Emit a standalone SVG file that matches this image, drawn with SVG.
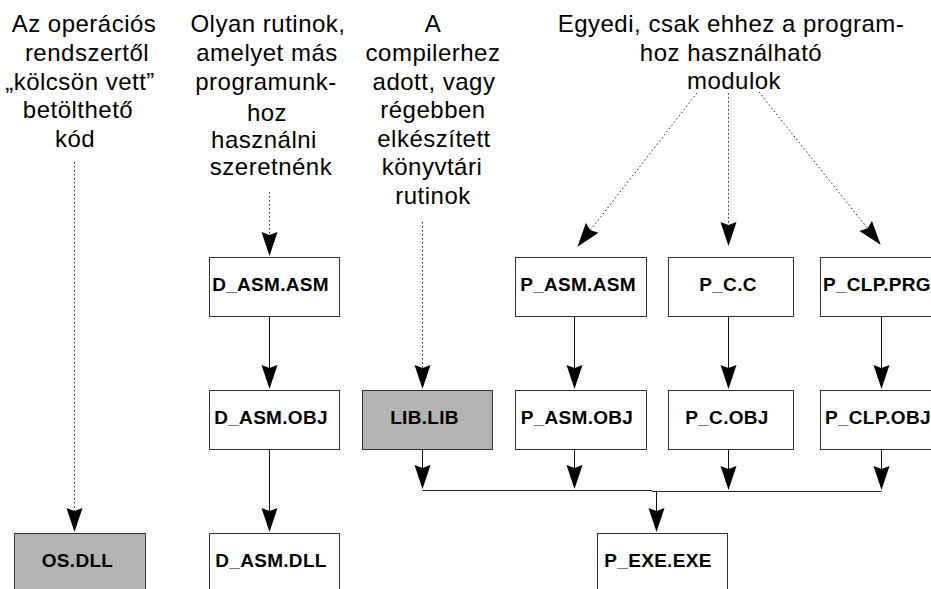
<svg xmlns="http://www.w3.org/2000/svg" width="931" height="589" viewBox="0 0 931 589">
  <style>
    .hdr { font-family: "Liberation Sans", Arial, sans-serif; font-size: 24px; letter-spacing: 0.5px; fill: #000; text-anchor: middle; }
    .lbl { font-family: "Liberation Sans", Arial, sans-serif; font-size: 19px; font-weight: bold; letter-spacing: 0.3px; fill: #000; text-anchor: middle; }
    .box { fill: #fff; stroke: #333; stroke-width: 1; }
    .box.sys { fill: #b3b3b3; }
    .solid { fill: none; stroke: #111; stroke-width: 1; marker-end: url(#arr); }
    .dot { fill: none; stroke: #222; stroke-width: 1; stroke-dasharray: 1.5 2.5; marker-end: url(#arr); }
    .bus { fill: none; stroke: #222; stroke-width: 1; }
  </style>
  <defs>
    <marker id="arr" markerUnits="userSpaceOnUse" markerWidth="24" markerHeight="17" viewBox="0 0 24 17" refX="21" refY="8.5" orient="auto">
      <path d="M0,0.5 L24,8.5 L0,16.5 L3,8.5 Z" fill="#000"/>
    </marker>
  </defs>

  <rect width="931" height="589" fill="#fff"/>

  <!-- column headings -->
  <g id="head-os">
    <text class="hdr" x="84" y="32">Az operációs</text>
    <text class="hdr" x="87" y="61">rendszertől</text>
    <text class="hdr" x="80" y="90">„kölcsön vett”</text>
    <text class="hdr" x="78" y="118">betölthető</text>
    <text class="hdr" x="75" y="147">kód</text>
  </g>
  <g id="head-dll">
    <text class="hdr" x="268" y="32">Olyan rutinok,</text>
    <text class="hdr" x="267" y="61">amelyet más</text>
    <text class="hdr" x="266" y="90">programunk-</text>
    <text class="hdr" x="267" y="121">hoz</text>
    <text class="hdr" x="264" y="148">használni</text>
    <text class="hdr" x="271" y="175">szeretnénk</text>
  </g>
  <g id="head-lib">
    <text class="hdr" x="433" y="32">A</text>
    <text class="hdr" x="433" y="61">compilerhez</text>
    <text class="hdr" x="434" y="90">adott, vagy</text>
    <text class="hdr" x="433" y="118">régebben</text>
    <text class="hdr" x="434" y="147">elkészített</text>
    <text class="hdr" x="432" y="175">könyvtári</text>
    <text class="hdr" x="433" y="204">rutinok</text>
  </g>
  <g id="head-mod">
    <text class="hdr" x="731" y="32">Egyedi, csak ehhez a program-</text>
    <text class="hdr" x="731" y="61">hoz használható</text>
    <text class="hdr" x="734" y="89">modulok</text>
  </g>

  <!-- connectors -->
  <g id="connectors">
    <!-- dotted: headings to files -->
    <path class="dot" d="M74.5,162 V529"/>
    <path class="dot" d="M269.5,192 V253"/>
    <path class="dot" d="M422.5,222 V386"/>
    <path class="dot" d="M697,93 L579.3,244.4"/>
    <path class="dot" d="M728.5,93 V243"/>
    <path class="dot" d="M759,92 L878.8,242.4"/>
    <!-- D_ASM chain -->
    <path class="solid" d="M269.5,316.5 V386"/>
    <path class="solid" d="M269.5,449.5 V529"/>
    <!-- P chains -->
    <path class="solid" d="M574.5,316.5 V386"/>
    <path class="solid" d="M728.5,316.5 V386"/>
    <path class="solid" d="M881.5,316.5 V386"/>
    <!-- into the link bus -->
    <path class="solid" d="M422.5,449.5 V486"/>
    <path class="solid" d="M574.5,449.5 V486"/>
    <path class="solid" d="M728.5,449.5 V487"/>
    <path class="solid" d="M881.5,449.5 V487"/>
    <!-- link bus -->
    <path class="bus" d="M422.5,490.5 H652"/>
    <path class="bus" d="M652,491.5 H881.5"/>
    <path class="solid" d="M656.5,490.5 V529"/>
  </g>

  <!-- nodes -->
  <g id="os-dll">
    <rect class="box sys" x="14.5" y="533.5" width="131" height="70"/>
    <text class="lbl" x="77.5" y="567">OS.DLL</text>
  </g>
  <g id="d-asm-asm">
    <rect class="box" x="209.5" y="257.5" width="130" height="59"/>
    <text class="lbl" x="270.5" y="291">D_ASM.ASM</text>
  </g>
  <g id="d-asm-obj">
    <rect class="box" x="209.5" y="390.5" width="130" height="59"/>
    <text class="lbl" x="271" y="424">D_ASM.OBJ</text>
  </g>
  <g id="d-asm-dll">
    <rect class="box" x="209.5" y="533.5" width="130" height="70"/>
    <text class="lbl" x="271" y="567">D_ASM.DLL</text>
  </g>
  <g id="lib-lib">
    <rect class="box sys" x="362.5" y="390.5" width="130" height="59"/>
    <text class="lbl" x="424.5" y="424">LIB.LIB</text>
  </g>
  <g id="p-asm-asm">
    <rect class="box" x="515.5" y="257.5" width="131" height="59"/>
    <text class="lbl" x="578" y="291">P_ASM.ASM</text>
  </g>
  <g id="p-c-c">
    <rect class="box" x="668.5" y="257.5" width="125" height="59"/>
    <text class="lbl" x="728" y="291">P_C.C</text>
  </g>
  <g id="p-clp-prg">
    <rect class="box" x="820.5" y="257.5" width="140" height="59"/>
    <text class="lbl" x="823" y="291" style="text-anchor:start">P_CLP.PRG</text>
  </g>
  <g id="p-asm-obj">
    <rect class="box" x="515.5" y="390.5" width="131" height="59"/>
    <text class="lbl" x="577" y="424">P_ASM.OBJ</text>
  </g>
  <g id="p-c-obj">
    <rect class="box" x="668.5" y="390.5" width="125" height="59"/>
    <text class="lbl" x="727" y="424">P_C.OBJ</text>
  </g>
  <g id="p-clp-obj">
    <rect class="box" x="820.5" y="390.5" width="140" height="59"/>
    <text class="lbl" x="825" y="424" style="text-anchor:start">P_CLP.OBJ</text>
  </g>
  <g id="p-exe-exe">
    <rect class="box" x="597.5" y="533.5" width="130" height="70"/>
    <text class="lbl" x="658" y="567">P_EXE.EXE</text>
  </g>
</svg>
